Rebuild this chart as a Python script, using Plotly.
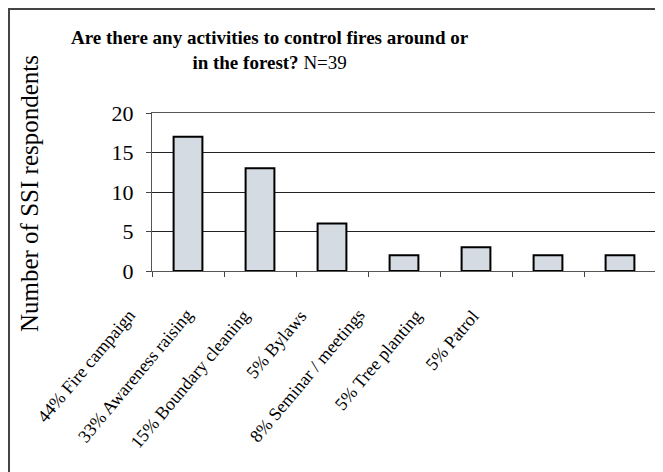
import plotly.graph_objects as go

categories = [
    "44% Fire campaign",
    "33% Awareness raising",
    "15% Boundary cleaning",
    "5% Bylaws",
    "8% Seminar / meetings",
    "5% Tree planting",
    "5% Patrol",
]
respondents = [17, 13, 6, 2, 3, 2, 2]
y_ticks = [0, 5, 10, 15, 20]

FONT = "Liberation Serif, Times New Roman, serif"

fig = go.Figure(
    go.Bar(
        x=categories,
        y=respondents,
        width=0.4,
        marker=dict(color="#d5dbe3", line=dict(color="black", width=2)),
    )
)

# category labels drawn as rotated annotations (they sit left of the bars in the original)
label_notes = [
    dict(
        text=cat,
        x=i, y=0,
        xref="x", yref="y",
        xanchor="right", yanchor="top",
        textangle=-50,
        xshift=-46 - 14.7 * i,
        yshift=-32,
        showarrow=False,
        font=dict(family=FONT, size=18),
    )
    for i, cat in enumerate(categories)
]

fig.update_layout(
    width=663,
    height=472,
    margin=dict(l=144, r=15, t=105, b=209),
    paper_bgcolor="white",
    plot_bgcolor="white",
    showlegend=False,
    font=dict(family=FONT, size=18, color="black"),
    annotations=label_notes + [
        dict(
            text="<b>Are there any activities to control fires around or<br>in the forest?</b> N=39",
            xref="paper", yref="paper",
            x=0.234, y=1.56,
            xanchor="center", yanchor="top",
            showarrow=False,
            font=dict(family=FONT, size=19),
        ),
        dict(
            text="Number of SSI respondents",
            xref="paper", yref="paper",
            x=-0.244, y=0.487,
            textangle=-90,
            xanchor="center", yanchor="middle",
            showarrow=False,
            font=dict(family=FONT, size=25),
        ),
    ],
    shapes=[
        # outer chart border
        dict(
            type="rect", xref="paper", yref="paper",
            x0=-0.2837, x1=1.2, y0=-1.5, y1=1.658,
            line=dict(color="#444", width=2),
        )
    ],
)

fig.update_yaxes(
    range=[0, 20],
    tickvals=y_ticks,
    ticks="outside",
    ticklen=5,
    ticklabelstandoff=8,
    tickfont=dict(size=22),
    showgrid=True,
    gridcolor="#222",
    gridwidth=1,
    showline=True,
    linecolor="#555",
    mirror=True,
    zeroline=False,
    automargin=False,
)
fig.update_xaxes(
    range=[-0.5, len(categories) - 0.5],
    showticklabels=False,
    ticks="outside",
    tickson="boundaries",
    ticklen=5,
    showline=True,
    linecolor="#555",
    mirror=True,
    automargin=False,
)

fig.write_html("out.html")
